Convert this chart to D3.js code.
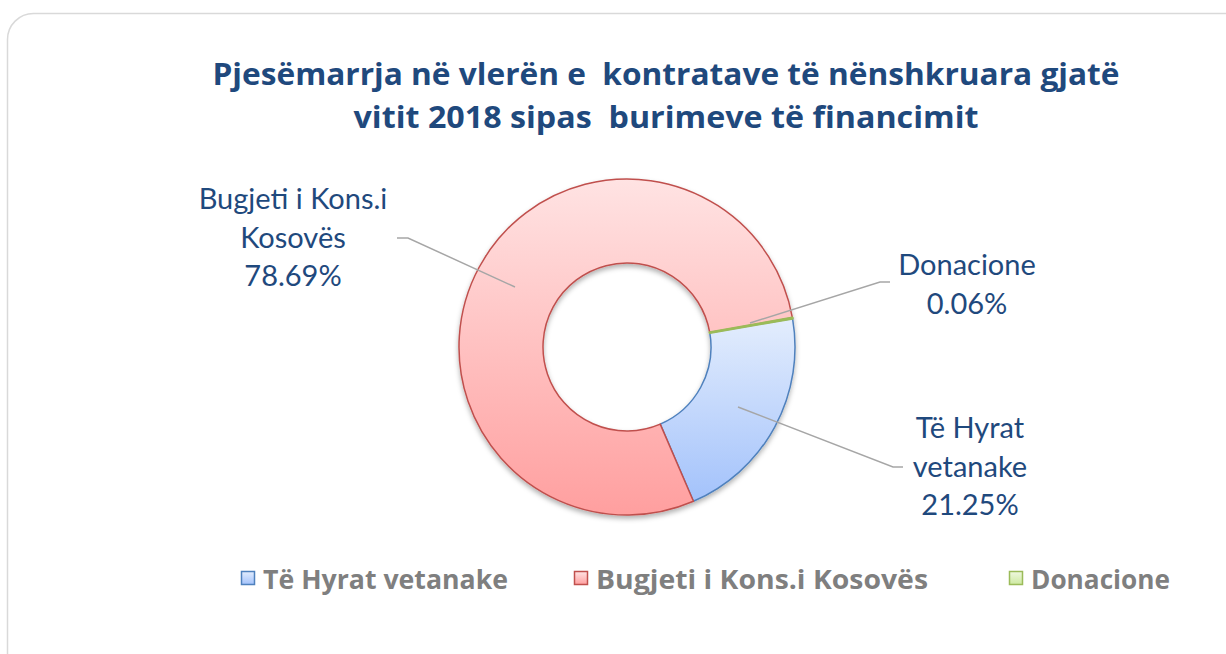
<!DOCTYPE html>
<html lang="sq">
<head>
<meta charset="UTF-8">
<title>Pjesëmarrja sipas burimeve të financimit</title>
<script src="https://d3js.org/d3.v7.min.js"></script>
<style>
  body { margin: 0; background: #fff; }
  svg { display: block; font-family: Lato, "Open Sans", sans-serif; }
  text { white-space: pre; }
</style>
</head>
<body>
<svg id="chart" width="1226" height="654"></svg>
<script>
// data
const categories = ["Të Hyrat vetanake", "Bugjeti i Kons.i Kosovës", "Donacione"];
const shares = [21.25, 78.69, 0.06];
const labelLines = [["Të Hyrat", "vetanake"], ["Bugjeti i Kons.i", "Kosovës"], ["Donacione"]];
const titleLines = ["Pjesëmarrja në vlerën e  kontratave të nënshkruara gjatë",
                    "vitit 2018 sipas  burimeve të financimit"];

const strokes = ["#4f81bd", "#c0504d", "#9bbb59"];
const gradTop = ["#e3edfd", "#ffe3e3", "#f0f8e0"];
const gradBot = ["#a3c2fb", "#ff9f9f", "#cde9a0"];

const svg = d3.select("#chart");
const defs = svg.append("defs");

categories.forEach((c, i) => {
  const g = defs.append("linearGradient").attr("id", "grad" + i)
    .attr("x1", 0).attr("y1", 0).attr("x2", 0).attr("y2", 1);
  g.append("stop").attr("offset", "0%").attr("stop-color", gradTop[i]);
  g.append("stop").attr("offset", "100%").attr("stop-color", gradBot[i]);
});

const shadow = defs.append("filter").attr("id", "shadow")
  .attr("x", "-20%").attr("y", "-20%").attr("width", "140%").attr("height", "140%");
shadow.append("feDropShadow").attr("dx", 0).attr("dy", 3).attr("stdDeviation", 2.5)
  .attr("flood-color", "#000").attr("flood-opacity", 0.3);

// frame
svg.append("rect").attr("x", 7.5).attr("y", 13.5).attr("width", 1260).attr("height", 700)
  .attr("rx", 26).attr("fill", "#fff").attr("stroke", "#d9d9d9").attr("stroke-width", 1.5);

// title (widths fitted to the original layout)
const titleWidth = [907, 625];
svg.append("g").selectAll("text").data(titleLines).join("text")
  .attr("text-anchor", "middle")
  .attr("font-family", "'Open Sans', sans-serif")
  .attr("font-weight", "bold").attr("font-size", 30).attr("fill", "#1f497d")
  .attr("x", 666).attr("y", (d, i) => 85 + i * 43)
  .attr("textLength", (d, i) => titleWidth[i]).attr("lengthAdjust", "spacingAndGlyphs")
  .text(d => d);

// donut
const cx = 627, cy = 347, rOuter = 168, rInner = 84;
const g = svg.append("g").attr("transform", `translate(${cx},${cy})`);

const startRad = 80.2 * Math.PI / 180;
const pie = d3.pie().sort(null).value(d => d)
  .startAngle(startRad).endAngle(startRad + 2 * Math.PI);
const arcs = pie(shares);
const arc = d3.arc().innerRadius(rInner).outerRadius(rOuter);

g.append("g").attr("filter", "url(#shadow)")
  .selectAll("path").data(arcs).join("path")
  .attr("d", arc)
  .attr("fill", (d, i) => `url(#grad${i})`)
  .attr("stroke", (d, i) => strokes[i])
  .attr("stroke-width", (d, i) => i === 2 ? 2.5 : 1.5)
  .attr("stroke-linejoin", "round");

// data labels with leader lines
const labelPos = [
  {x: 970, y: 438, anchor: [738, 407], elbow: [893, 467], end: [903, 467]},
  {x: 293, y: 209, anchor: [515, 287], elbow: [408, 238], end: [397, 238]},
  {x: 967, y: 275, anchor: [750, 323], elbow: [880, 282], end: [890, 282]}
];

const labels = svg.append("g");
arcs.forEach((a, i) => {
  const p = labelPos[i];
  labels.append("polyline")
    .attr("points", [p.anchor, p.elbow, p.end].map(q => q.join(",")).join(" "))
    .attr("fill", "none").attr("stroke", "#a6a6a6").attr("stroke-width", 1.5);
  const lines = labelLines[i].concat([d3.format(".2f")(shares[i]) + "%"]);
  labels.append("text").attr("text-anchor", "middle")
    .attr("font-size", 29).attr("fill", "#1f497d")
    .selectAll("tspan").data(lines).join("tspan")
    .attr("x", p.x).attr("y", (d, j) => p.y + j * 38.5)
    .text(d => d);
});

// legend
const legendX = [241, 574, 1009];
const legendW = [245, 332, 139];
const leg = svg.append("g").selectAll("g").data(categories).join("g")
  .attr("transform", (d, i) => `translate(${legendX[i]},571)`);
leg.append("rect").attr("x", 0.5).attr("y", 0.5).attr("width", 13).attr("height", 13)
  .attr("fill", (d, i) => `url(#grad${i})`)
  .attr("stroke", (d, i) => strokes[i]).attr("stroke-width", 1.5);
leg.append("text").attr("x", 22).attr("y", 18)
  .attr("font-family", "'Open Sans', sans-serif")
  .attr("font-size", 27).attr("font-weight", "bold").attr("fill", "#7f7f7f")
  .attr("textLength", (d, i) => legendW[i]).attr("lengthAdjust", "spacingAndGlyphs")
  .text(d => d);
</script>
</body>
</html>
